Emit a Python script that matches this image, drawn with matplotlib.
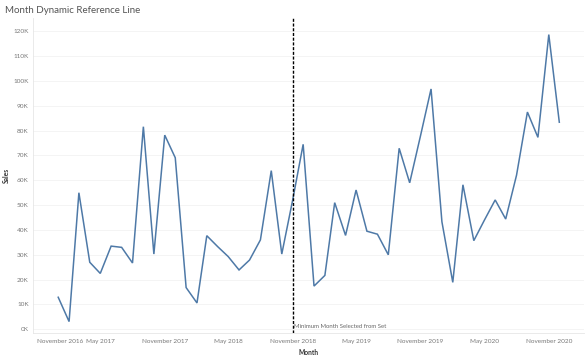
import pandas as pd
import matplotlib
matplotlib.use('Agg')
import matplotlib.pyplot as plt
import matplotlib.dates as mdates
from matplotlib.ticker import FuncFormatter, MultipleLocator

# monthly sales, Jan 2017 - Dec 2020
months = pd.date_range('2017-01-01', periods=48, freq='MS')
sales = [12900, 3100, 55000, 27000, 22500, 33500, 33000, 26700, 81600, 30300, 78200, 69100,
         16800, 10600, 37700, 33300, 29300, 23900, 27900, 36000, 63900, 30300, 52000, 74500,
         17400, 21700, 51000, 37800, 56100, 39500, 38300, 30000, 72900, 59000, 78000, 96800,
         43300, 18900, 58200, 35700, 43900, 52100, 44400, 62100, 87500, 77300, 118700, 83400]
ref_month = pd.Timestamp('2018-11-01')
ref_label = 'Minimum Month Selected from Set'
tick_months = pd.date_range('2016-11-01', '2020-11-01', freq='6MS')

plt.rcParams['font.family'] = ['Lato', 'DejaVu Sans']

fig = plt.figure(figsize=(5.87, 3.59), dpi=100)
ax = fig.add_axes([0.0562, 0.0724, 0.939, 0.8776])

ax.plot(months, sales, color='#4e79a7', lw=1.1, solid_joinstyle='miter')
ax.axvline(ref_month, color='black', lw=1.0, ls=(0, (2.2, 1.2)))
ax.text(ref_month + pd.Timedelta(days=3), 0, ref_label, fontsize=4.3, color='#666666',
        ha='left', va='bottom')

ax.set_xlim(pd.Timestamp('2016-10-21'), pd.Timestamp('2021-02-10'))
ax.set_ylim(-1500, 125400)
ax.yaxis.set_major_locator(MultipleLocator(10000))
ax.yaxis.set_major_formatter(FuncFormatter(lambda v, p: '%dK' % round(v / 1000)))
ax.set_xticks(tick_months)
ax.xaxis.set_major_formatter(mdates.DateFormatter('%B %Y'))

ax.tick_params(axis='both', length=0, labelsize=4.6, labelcolor='#777777')
ax.tick_params(axis='x', pad=4)
ax.tick_params(axis='y', pad=3)
fig.canvas.draw()
ax.get_xticklabels()[0].set_ha('left')
ax.grid(axis='y', color='#f2f2f2', lw=0.6)
ax.set_axisbelow(True)
for s in ['top', 'right']:
    ax.spines[s].set_visible(False)
for s in ['left', 'bottom']:
    ax.spines[s].set_color('#e6e6e6')
    ax.spines[s].set_linewidth(0.6)

ax.set_ylabel('Sales', fontsize=4.8, color='#333333', fontweight='bold')
ax.yaxis.set_label_coords(-0.042, 0.5)
ax.set_xlabel('Month', fontsize=4.8, color='#333333', fontweight='bold', labelpad=4)
fig.text(0.009, 0.972, 'Month Dynamic Reference Line', fontsize=7, color='#555555',
         ha='left', va='center')

fig.savefig('out.png', dpi=100)
